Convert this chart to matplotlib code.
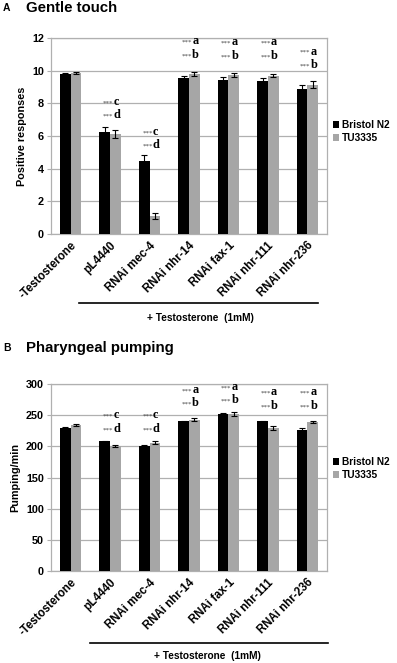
import matplotlib
matplotlib.use("Agg")
import matplotlib.pyplot as plt
import numpy as np
from matplotlib.patches import Patch
from matplotlib.transforms import blended_transform_factory

plt.rcParams['font.family'] = ['Liberation Sans', 'DejaVu Sans']

categories = ["-Testosterone", "pL4440", "RNAi mec-4", "RNAi nhr-14",
              "RNAi fax-1", "RNAi nhr-111", "RNAi nhr-236"]
series_names = ["Bristol N2", "TU3335"]

touch_n2 = [9.8, 6.25, 4.5, 9.55, 9.4, 9.35, 8.9]
touch_n2_err = [0.04, 0.28, 0.35, 0.15, 0.2, 0.2, 0.2]
touch_tu = [9.85, 6.1, 1.1, 9.8, 9.75, 9.7, 9.15]
touch_tu_err = [0.08, 0.25, 0.2, 0.1, 0.12, 0.1, 0.2]

pump_n2 = [230, 208, 201, 240, 252, 240, 227]
pump_n2_err = [1, 1, 1, 1, 1, 1, 2]
pump_tu = [234, 201, 206, 243, 252, 230, 239]
pump_tu_err = [2, 1.5, 2, 2, 3, 3, 2]

# significance labels: (category index, upper letter, lower letter, upper y, lower y)
touch_sig = [(1, "c", "d", 7.85, 7.05), (2, "c", "d", 6.05, 5.25),
             (3, "a", "b", 11.6, 10.75), (4, "a", "b", 11.55, 10.7),
             (5, "a", "b", 11.55, 10.7), (6, "a", "b", 10.95, 10.15)]
pump_sig = [(1, "c", "d", 245, 222), (2, "c", "d", 245, 222),
            (3, "a", "b", 285, 264), (4, "a", "b", 289, 268),
            (5, "a", "b", 281, 259), (6, "a", "b", 281, 259)]

W, H = 397, 663
fig = plt.figure(figsize=(W / 100, H / 100), dpi=100)

BLACK = "#000000"
GRAY = "#A6A6A6"
GRID = "#B0B0B0"


def panel(ax_rect, n2, n2e, tu, tue, ymax, ystep, ylabel, sig, title_letter, title,
          title_y, legend_y, line_y, text_y, line_x, text_x):
    ax = fig.add_axes(ax_rect)
    x = np.arange(len(categories))
    bw = 0.27
    ax.bar(x - bw / 2, n2, bw, color=BLACK, zorder=3,
           yerr=n2e, error_kw=dict(ecolor=BLACK, elinewidth=0.8, capsize=2.2, capthick=0.8, zorder=4))
    ax.bar(x + bw / 2, tu, bw, color=GRAY, zorder=3,
           yerr=tue, error_kw=dict(ecolor=BLACK, elinewidth=0.8, capsize=2.2, capthick=0.8, zorder=4))
    ax.set_xlim(-0.5, len(categories) - 0.5)
    ax.set_ylim(0, ymax)
    ax.set_yticks(np.arange(0, ymax + ystep / 2, ystep))
    ax.yaxis.grid(True, color=GRID, linewidth=0.9, zorder=0)
    ax.set_axisbelow(True)
    for s in ax.spines.values():
        s.set_color(GRID)
        s.set_linewidth(0.9)
    ax.tick_params(axis='y', length=3, width=0.8, color=GRID, pad=2,
                   labelsize=7.8)
    for lab in ax.get_yticklabels():
        lab.set_fontweight('bold')
    ax.set_xticks(x)
    ax.set_xticklabels(categories, rotation=45, ha='right', va='top',
                       rotation_mode='anchor', fontsize=8.3, fontweight='bold')
    ax.tick_params(axis='x', length=0, pad=4)
    ax.set_ylabel(ylabel, fontsize=7.8, fontweight='bold', labelpad=4)

    for (i, up, lo, yu, yl) in sig:
        for letter, yy in ((up, yu), (lo, yl)):
            ax.text(i + 0.08, yy, "***", ha='right', va='bottom', fontsize=5,
                    color="#444444", family='Liberation Serif', zorder=5)
            ax.text(i + 0.08, yy - (ymax * 0.012), letter, ha='left', va='bottom',
                    fontsize=8.8, fontweight='bold', family='Liberation Serif', zorder=5)

    handles = [Patch(facecolor=BLACK), Patch(facecolor=GRAY)]
    fig.legend(handles, series_names, loc='upper left',
               bbox_to_anchor=(333 / W, 1 - legend_y / H), frameon=False,
               handlelength=0.6, handleheight=0.6, handletextpad=0.25,
               labelspacing=0.3, borderpad=0, borderaxespad=0,
               prop=dict(weight='bold', size=7.3))

    fig.text(3 / W, 1 - title_y / H, title_letter, fontsize=7.5, fontweight='bold',
             va='center', ha='left')
    fig.text(26 / W, 1 - title_y / H, title, fontsize=10.8, fontweight='bold',
             va='center', ha='left')

    tr = blended_transform_factory(fig.transFigure, fig.transFigure)
    fig.add_artist(plt.Line2D([line_x[0] / W, line_x[1] / W],
                              [1 - line_y / H, 1 - line_y / H],
                              color='black', linewidth=1.2, transform=tr))
    fig.text(text_x / W, 1 - text_y / H, "+ Testosterone  (1mM)", fontsize=7.3,
             fontweight='bold', ha='center', va='center')
    return ax


panel([51 / W, 1 - 234 / H, 276 / W, 196 / H], touch_n2, touch_n2_err, touch_tu, touch_tu_err,
      12, 2, "Positive responses", touch_sig, "A", "Gentle touch",
      8, 120, 303, 318, (79, 318), 200)

panel([51 / W, 1 - 571 / H, 276 / W, 187 / H], pump_n2, pump_n2_err, pump_tu, pump_tu_err,
      300, 50, "Pumping/min", pump_sig, "B", "Pharyngeal pumping",
      348, 457, 643, 656, (90, 328), 207)

fig.savefig("out.png", dpi=100)
